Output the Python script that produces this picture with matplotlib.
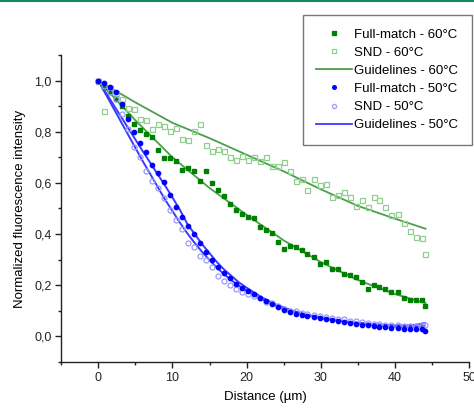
import matplotlib
matplotlib.use("Agg")
import matplotlib.pyplot as plt
from matplotlib.lines import Line2D
from matplotlib.ticker import MultipleLocator, FuncFormatter

plt.rcParams["font.family"] = ["Liberation Sans", "DejaVu Sans"]

# distance positions of the measured points (µm)
dist = [0.0, 0.81, 1.62, 2.42, 3.23, 4.04, 4.85, 5.65, 6.46, 7.27, 8.08, 8.88,
        9.69, 10.5, 11.3, 12.1, 12.9, 13.7, 14.5, 15.3, 16.1, 16.9, 17.7, 18.5,
        19.4, 20.2, 21.0, 21.8, 22.6, 23.4, 24.2, 25.0, 25.8, 26.6, 27.4, 28.2,
        29.1, 29.9, 30.7, 31.5, 32.3, 33.1, 33.9, 34.7, 35.5, 36.3, 37.1, 37.9,
        38.7, 39.5, 40.4, 41.2, 42.0, 42.8, 43.6, 44.1]

full_60 = [1.0, 0.975, 0.955, 0.93, 0.90, 0.86, 0.83, 0.807, 0.793, 0.779, 0.728, 0.699,
           0.699, 0.685, 0.652, 0.658, 0.647, 0.607, 0.647, 0.600, 0.573, 0.550, 0.516, 0.495,
           0.479, 0.467, 0.462, 0.428, 0.415, 0.404, 0.368, 0.342, 0.352, 0.349, 0.336, 0.321,
           0.310, 0.284, 0.292, 0.263, 0.263, 0.245, 0.238, 0.233, 0.213, 0.187, 0.199, 0.192,
           0.187, 0.174, 0.172, 0.148, 0.141, 0.142, 0.144, 0.119]

snd_60 = [1.0, 0.88, 0.97, 0.95, 0.93, 0.892, 0.890, 0.849, 0.848, 0.812, 0.832, 0.821,
          0.805, 0.816, 0.772, 0.768, 0.805, 0.831, 0.748, 0.726, 0.734, 0.724, 0.700, 0.690,
          0.707, 0.690, 0.703, 0.687, 0.700, 0.668, 0.668, 0.682, 0.645, 0.609, 0.616, 0.573,
          0.616, 0.592, 0.597, 0.544, 0.554, 0.563, 0.546, 0.510, 0.533, 0.504, 0.543, 0.533,
          0.504, 0.475, 0.480, 0.444, 0.412, 0.389, 0.384, 0.321]

full_50 = [1.0, 0.99, 0.975, 0.955, 0.91, 0.85, 0.80, 0.755, 0.72, 0.672, 0.638, 0.603,
           0.552, 0.505, 0.467, 0.430, 0.399, 0.364, 0.331, 0.297, 0.271, 0.249, 0.227, 0.205,
           0.190, 0.177, 0.164, 0.148, 0.138, 0.125, 0.113, 0.103, 0.095, 0.088, 0.083, 0.080,
           0.075, 0.072, 0.068, 0.063, 0.060, 0.055, 0.052, 0.050, 0.046, 0.043, 0.040, 0.037,
           0.036, 0.033, 0.032, 0.030, 0.028, 0.030, 0.028, 0.022]

snd_50 = [1.0, 0.98, 0.955, 0.93, 0.87, 0.81, 0.74, 0.70, 0.648, 0.609, 0.58, 0.541,
          0.494, 0.454, 0.418, 0.364, 0.350, 0.314, 0.298, 0.272, 0.236, 0.218, 0.201, 0.187,
          0.174, 0.166, 0.157, 0.148, 0.135, 0.131, 0.118, 0.105, 0.098, 0.098, 0.092, 0.088,
          0.082, 0.080, 0.075, 0.072, 0.068, 0.066, 0.058, 0.060, 0.055, 0.052, 0.048, 0.050,
          0.045, 0.046, 0.044, 0.042, 0.040, 0.042, 0.045, 0.046]

# guideline curves
guide_60_x = [0, 5, 10, 15, 20, 25, 30, 35, 40, 44.1]
guide_60_full = [1.0, 0.845, 0.70, 0.58, 0.475, 0.375, 0.29, 0.22, 0.165, 0.13]
guide_60_snd = [1.0, 0.915, 0.835, 0.775, 0.71, 0.645, 0.575, 0.51, 0.46, 0.421]

guide_50_x = [0, 2, 4, 6, 7, 8, 9, 10, 11, 12, 13, 14, 15, 16, 17, 18, 19, 20,
              22, 24, 26, 28, 30, 32, 34, 36, 38, 40, 42, 43, 44]
guide_50_full = [1.0, 0.908, 0.816, 0.724, 0.679, 0.634, 0.59, 0.543, 0.495, 0.44, 0.40,
                 0.36, 0.325, 0.29, 0.26, 0.235, 0.21, 0.19, 0.153, 0.124, 0.102, 0.085,
                 0.073, 0.063, 0.055, 0.048, 0.042, 0.038, 0.036, 0.037, 0.042]
guide_50_snd = [1.0, 0.895, 0.79, 0.685, 0.635, 0.585, 0.535, 0.49, 0.445, 0.403, 0.365,
                0.33, 0.298, 0.268, 0.242, 0.218, 0.197, 0.178, 0.146, 0.12, 0.1, 0.084,
                0.072, 0.063, 0.056, 0.05, 0.046, 0.043, 0.043, 0.046, 0.052]

fig = plt.figure(figsize=(4.74, 4.08), dpi=100)
ax = fig.add_axes([0.129, 0.113, 0.861, 0.752])

ax.plot(guide_60_x, guide_60_snd, color="#4b9e4b", lw=1.3)
ax.plot(guide_60_x, guide_60_full, color="#4b9e4b", lw=1.3)
ax.plot(guide_50_x, guide_50_snd, color="#3a3aff", lw=1.4)
ax.plot(guide_50_x, guide_50_full, color="#3a3aff", lw=1.4)

ax.plot(dist, snd_60, "s", ms=3.6, mfc="none", mec="#8fcf8f", mew=0.9, label="SND - 60°C")
ax.plot(dist, full_60, "s", ms=3.1, color="#008000", label="Full-match - 60°C")
ax.plot(dist, snd_50, "o", ms=3.6, mfc="none", mec="#9a9aff", mew=0.9, label="SND - 50°C")
ax.plot(dist, full_50, "o", ms=3.1, color="#0000ff", label="Full-match - 50°C")

ax.set_xlim(-5, 50)
ax.set_ylim(-0.1, 1.1)
ax.xaxis.set_major_locator(MultipleLocator(10))
ax.xaxis.set_minor_locator(MultipleLocator(5))
ax.yaxis.set_major_locator(MultipleLocator(0.2))
ax.yaxis.set_minor_locator(MultipleLocator(0.1))
ax.yaxis.set_major_formatter(FuncFormatter(lambda v, p: f"{v:.1f}".replace(".", ",").replace("-0,0", "0,0")))
ax.spines["top"].set_visible(False)
ax.spines["right"].set_visible(False)
for s in ("left", "bottom"):
    ax.spines[s].set_linewidth(1.0)
    ax.spines[s].set_color("#222222")
ax.tick_params(which="major", direction="out", length=4, width=1, labelsize=9, pad=3, colors="#222222")
ax.tick_params(which="minor", direction="out", length=2.5, width=1, colors="#222222")
ax.set_xlabel("Distance (µm)", fontsize=9.5, labelpad=5)
ax.set_ylabel("Normalized fluorescence intensity", fontsize=9.5, labelpad=6)

handles = [
    Line2D([], [], ls="none", marker="s", ms=2.6, color="#008000"),
    Line2D([], [], ls="none", marker="s", ms=3, mfc="none", mec="#8fcf8f", mew=0.9),
    Line2D([], [], color="#4b9e4b", lw=1.3),
    Line2D([], [], ls="none", marker="o", ms=2.6, color="#0000ff"),
    Line2D([], [], ls="none", marker="o", ms=3, mfc="none", mec="#9a9aff", mew=0.9),
    Line2D([], [], color="#3a3aff", lw=1.3),
]
labels = ["Full-match - 60°C", "SND - 60°C", "Guidelines - 60°C",
          "Full-match - 50°C", "SND - 50°C", "Guidelines - 50°C"]
leg = fig.legend(handles, labels, loc="upper left", bbox_to_anchor=(0.639, 0.963),
                 fontsize=9.5, frameon=True, fancybox=False, handlelength=2.7,
                 handletextpad=0.2, labelspacing=0.45, borderpad=1.0, borderaxespad=0)
leg.get_frame().set_edgecolor("#555555")
leg.get_frame().set_linewidth(1.0)

fig.add_artist(Line2D([0, 1], [0.997, 0.997], transform=fig.transFigure, color="#138a5e", lw=1.5))

fig.savefig("out.png", dpi=100)
